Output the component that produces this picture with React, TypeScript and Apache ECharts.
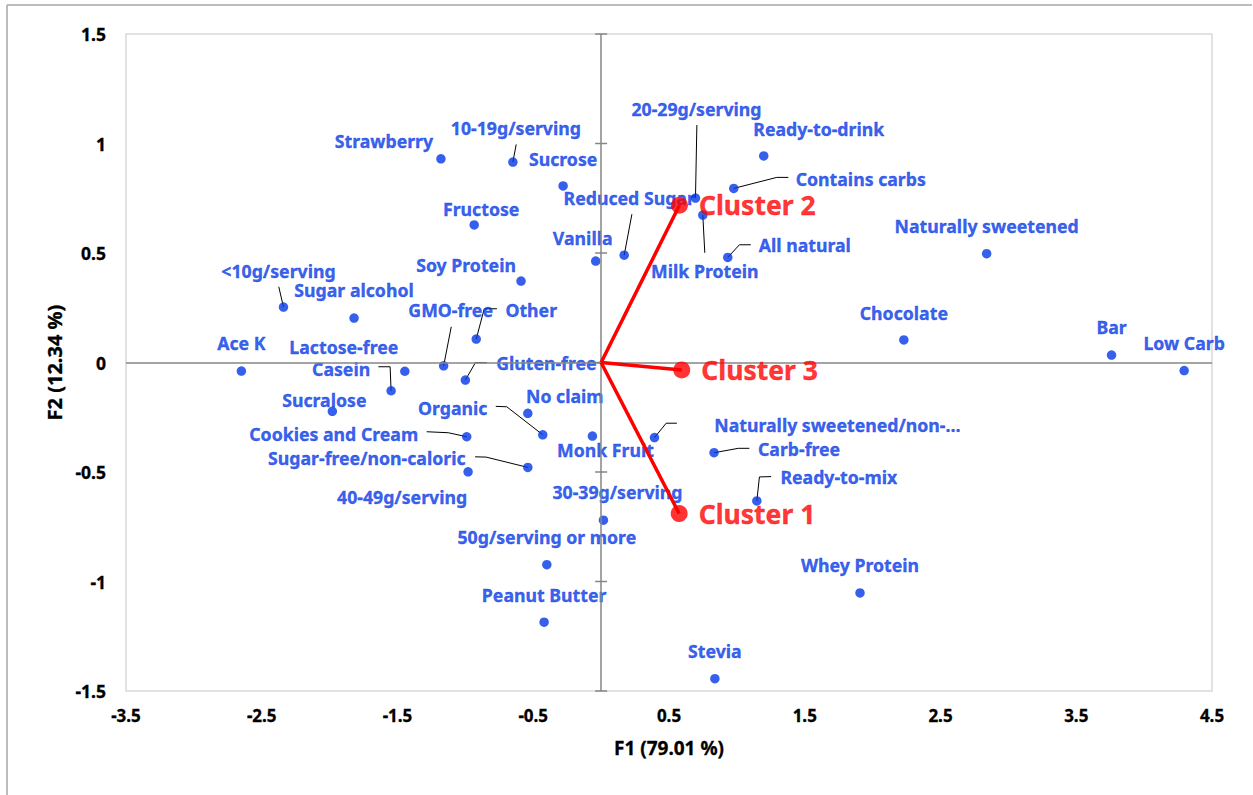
import React, { useEffect, useRef } from "react";
import * as echarts from "echarts";

// ---- Data ----
const attrNames = [
  "Strawberry", "10-19g/serving", "Sucrose", "Fructose", "Vanilla", "Soy Protein",
  "<10g/serving", "Sugar alcohol", "GMO-free", "Other", "Ace K", "Lactose-free",
  "Casein", "Gluten-free", "Sucralose", "No claim", "Organic", "Monk Fruit",
  "Cookies and Cream", "Sugar-free/non-caloric", "40-49g/serving", "30-39g/serving",
  "50g/serving or more", "Peanut Butter", "Stevia", "Whey Protein", "Ready-to-mix",
  "Carb-free", "Naturally sweetened/non-…", "20-29g/serving", "Reduced Sugar",
  "Milk Protein", "Contains carbs", "Ready-to-drink", "All natural",
  "Naturally sweetened", "Chocolate", "Bar", "Low Carb",
];
const attrF1 = [
  -1.18, -0.65, -0.28, -0.935, -0.04, -0.59,
  -2.34, -1.82, -1.16, -0.92, -2.65, -1.446,
  -1.547, -1.0, -1.98, -0.54, -0.43, -0.064,
  -0.99, -0.54, -0.98, 0.017,
  -0.4, -0.42, 0.838, 1.907, 1.147,
  0.832, 0.393, 0.695, 0.17,
  0.749, 0.977, 1.198, 0.933,
  2.84, 2.23, 3.76, 4.295,
];
const attrF2 = [
  0.93, 0.915, 0.806, 0.628, 0.463, 0.372,
  0.253, 0.203, -0.015, 0.107, -0.039, -0.04,
  -0.129, -0.08, -0.223, -0.232, -0.33, -0.336,
  -0.339, -0.479, -0.499, -0.72,
  -0.923, -1.186, -1.444, -1.052, -0.632,
  -0.412, -0.343, 0.751, 0.49,
  0.673, 0.795, 0.943, 0.48,
  0.497, 0.103, 0.034, -0.037,
];

const clusterNames = ["Cluster 1", "Cluster 2", "Cluster 3"];
const clusterF1 = [0.575, 0.577, 0.594];
const clusterF2 = [-0.69, 0.718, -0.034];

const xTickMin = -3.5;
const xTickMax = 4.5;
const yTickMin = -1.5;
const yTickMax = 1.5;
const yTicks = [-1.5, -1, -0.5, 0, 0.5, 1, 1.5];

// ---- Layout (label offsets in px from the point) ----
const labelOffsets: Record<string, [number, number]> = {
  "Strawberry": [-57, -18],
  "10-19g/serving": [3, -34],
  "Sucrose": [0, -27],
  "Fructose": [7, -16],
  "Vanilla": [-13, -23],
  "Soy Protein": [-55, -16],
  "<10g/serving": [-5, -36],
  "Sugar alcohol": [0, -28],
  "GMO-free": [7, -56],
  "Other": [55, -29],
  "Ace K": [0, -28],
  "Lactose-free": [-61, -24],
  "Casein": [-50, -22],
  "Gluten-free": [81, -17],
  "Sucralose": [-8, -11],
  "No claim": [37, -17],
  "Organic": [-90, -27],
  "Monk Fruit": [13, 14],
  "Cookies and Cream": [-133, -3],
  "Sugar-free/non-caloric": [-161, -9],
  "40-49g/serving": [-66, 25],
  "30-39g/serving": [14, -28],
  "50g/serving or more": [0, -28],
  "Peanut Butter": [0, -27],
  "Stevia": [0, -28],
  "Whey Protein": [0, -28],
  "Ready-to-mix": [82, -24],
  "Carb-free": [85, -4],
  "Naturally sweetened/non-…": [183, -13],
  "20-29g/serving": [1, -89],
  "Reduced Sugar": [5, -57],
  "Milk Protein": [2, 56],
  "Contains carbs": [127, -9],
  "Ready-to-drink": [55, -27],
  "All natural": [77, -12],
  "Naturally sweetened": [0, -28],
  "Chocolate": [0, -27],
  "Bar": [0, -28],
  "Low Carb": [0, -28],
};

const leaderLines: Record<string, [number, number][]> = {
  "10-19g/serving": [[3.3, -17.7]],
  "<10g/serving": [[-4.7, -20.3]],
  "GMO-free": [[7.6, -39]],
  "Other": [[20.7, -30.3], [8, -30.3]],
  "Casein": [[-12.7, -24], [-1, -24]],
  "Gluten-free": [[21.4, -17.3], [10, -17.3]],
  "Organic": [[-47, -28.4], [-36, -28]],
  "Cookies and Cream": [[-40, -5], [-18.4, -4]],
  "Sugar-free/non-caloric": [[-52.7, -10.6], [-41.7, -10.3]],
  "Naturally sweetened/non-…": [[22.4, -14.4], [11.7, -14.4]],
  "Carb-free": [[35.3, -4.4], [24.3, -4.4]],
  "Ready-to-mix": [[14.3, -24.3], [2.6, -24]],
  "20-29g/serving": [[1.4, -73]],
  "Reduced Sugar": [[7.7, -41]],
  "Milk Protein": [[2, 37.7]],
  "Contains carbs": [[54.6, -11], [43, -11]],
  "All natural": [[23, -12.6], [11.6, -12.6]],
};

const BLUE = "#0438E6";
const RED = "#FF0000";
const FONT = "'Noto Sans', 'Open Sans', sans-serif";

export default function App() {
  const ref = useRef<HTMLDivElement>(null);

  useEffect(() => {
    if (!ref.current) return;
    const chart = echarts.init(ref.current, null, { renderer: "svg" });

    const pointData = attrNames.map((n, i) => {
      const off = labelOffsets[n] || [0, -28];
      return {
        name: n,
        value: [attrF1[i], attrF2[i]],
        label: { offset: off },
      };
    });

    const leaderNames = Object.keys(leaderLines);
    const leaderData = leaderNames.map((n) => {
      const i = attrNames.indexOf(n);
      return { name: n, value: [attrF1[i], attrF2[i]] };
    });

    const clusterLineSeries = clusterNames.map((c, i) => ({
      type: "line",
      name: c + " line",
      data: [[0, 0], [clusterF1[i], clusterF2[i]]],
      symbol: "none",
      lineStyle: { color: RED, width: 3.5 },
      z: 5,
      silent: true,
    }));

    const option: any = {
      animation: false,
      backgroundColor: "#fff",
      textStyle: { fontFamily: FONT },
      grid: {
        left: 126,
        top: 34,
        right: 41,
        bottom: 104,
        show: true,
        borderColor: "#d9d9d9",
        borderWidth: 1.5,
        backgroundColor: "transparent",
      },
      xAxis: {
        type: "value",
        min: xTickMin,
        max: xTickMax,
        interval: 1,
        axisLine: { show: false },
        axisTick: { show: false },
        splitLine: { show: false },
        axisLabel: {
          color: "#000",
          fontWeight: "bold",
          fontSize: 17,
          fontFamily: FONT,
          margin: 16,
          textBorderColor: "#000",
          textBorderWidth: 0.3,
        },
        name: "F1 (79.01 %)",
        nameLocation: "middle",
        nameGap: 47,
        nameTextStyle: {
          color: "#000", fontWeight: "bold", fontSize: 19, fontFamily: FONT,
          textBorderColor: "#000", textBorderWidth: 0.3,
        },
      },
      yAxis: {
        type: "value",
        min: yTickMin,
        max: yTickMax,
        interval: 0.5,
        axisLine: { show: false },
        axisTick: { show: false },
        splitLine: { show: false },
        axisLabel: {
          color: "#000",
          fontWeight: "bold",
          fontSize: 17.5,
          fontFamily: FONT,
          margin: 20,
          textBorderColor: "#000",
          textBorderWidth: 0.3,
        },
        name: "F2 (12.34 %)",
        nameLocation: "middle",
        nameGap: 62,
        nameTextStyle: {
          color: "#000", fontWeight: "bold", fontSize: 20, fontFamily: FONT,
          textBorderColor: "#000", textBorderWidth: 0.3,
        },
      },
      graphic: [
        { type: "line", shape: { x1: 7, y1: 5, x2: 1252, y2: 5 }, style: { stroke: "#a6a6a6", lineWidth: 1.5 }, z: 0 },
        { type: "line", shape: { x1: 7, y1: 5, x2: 7, y2: 795 }, style: { stroke: "#a6a6a6", lineWidth: 1.5 }, z: 0 },
      ],
      series: [
        {
          type: "line",
          name: "axes",
          data: [],
          symbol: "none",
          silent: true,
          z: 1,
          markLine: {
            silent: true,
            symbol: "none",
            label: { show: false },
            lineStyle: { color: "#868686", width: 1.5, type: "solid" },
            data: [{ xAxis: 0 }, { yAxis: 0 }],
          },
        },
        {
          type: "custom",
          name: "yticks",
          data: yTicks.map((v) => [0, v]),
          silent: true,
          z: 1,
          renderItem: (params: any, api: any) => {
            const p = api.coord([api.value(0), api.value(1)]);
            return {
              type: "line",
              shape: { x1: p[0] - 6, y1: p[1], x2: p[0] + 6, y2: p[1] },
              style: { stroke: "#868686", lineWidth: 1.5 },
            };
          },
        },
        {
          type: "custom",
          name: "leaders",
          data: leaderData,
          silent: true,
          z: 2,
          renderItem: (params: any, api: any) => {
            const n = leaderNames[params.dataIndex];
            const p = api.coord([api.value(0), api.value(1)]);
            const pts = leaderLines[n].map((o) => [p[0] + o[0], p[1] + o[1]]);
            pts.push([p[0], p[1]]);
            return {
              type: "polyline",
              shape: { points: pts },
              style: { stroke: "#000", lineWidth: 1, fill: "none" },
            };
          },
        },
        {
          type: "scatter",
          name: "attributes",
          data: pointData,
          symbol: "circle",
          symbolSize: 9.5,
          itemStyle: { color: BLUE },
          z: 3,
          label: {
            show: true,
            position: "inside",
            formatter: "{b}",
            color: BLUE,
            fontWeight: "bold",
            fontSize: 17.7,
            fontFamily: FONT,
            align: "center",
            verticalAlign: "middle",
            textBorderColor: BLUE,
            textBorderWidth: 0.35,
          },
        },
        ...clusterLineSeries,
        {
          type: "scatter",
          name: "clusters",
          data: clusterNames.map((c, i) => ({ name: c, value: [clusterF1[i], clusterF2[i]] })),
          symbol: "circle",
          symbolSize: 17,
          itemStyle: { color: RED },
          z: 6,
          label: {
            show: true,
            position: "right",
            distance: 11,
            formatter: "{b}",
            color: RED,
            fontWeight: "bold",
            fontSize: 26.5,
            fontFamily: FONT,
            textBorderColor: RED,
            textBorderWidth: 0.4,
          },
        },
      ],
    };

    chart.setOption(option);
    return () => chart.dispose();
  }, []);

  return (
    <div
      ref={ref}
      style={{ position: "absolute", left: 0, top: 0, width: 1253, height: 795, background: "#fff" }}
    />
  );
}
